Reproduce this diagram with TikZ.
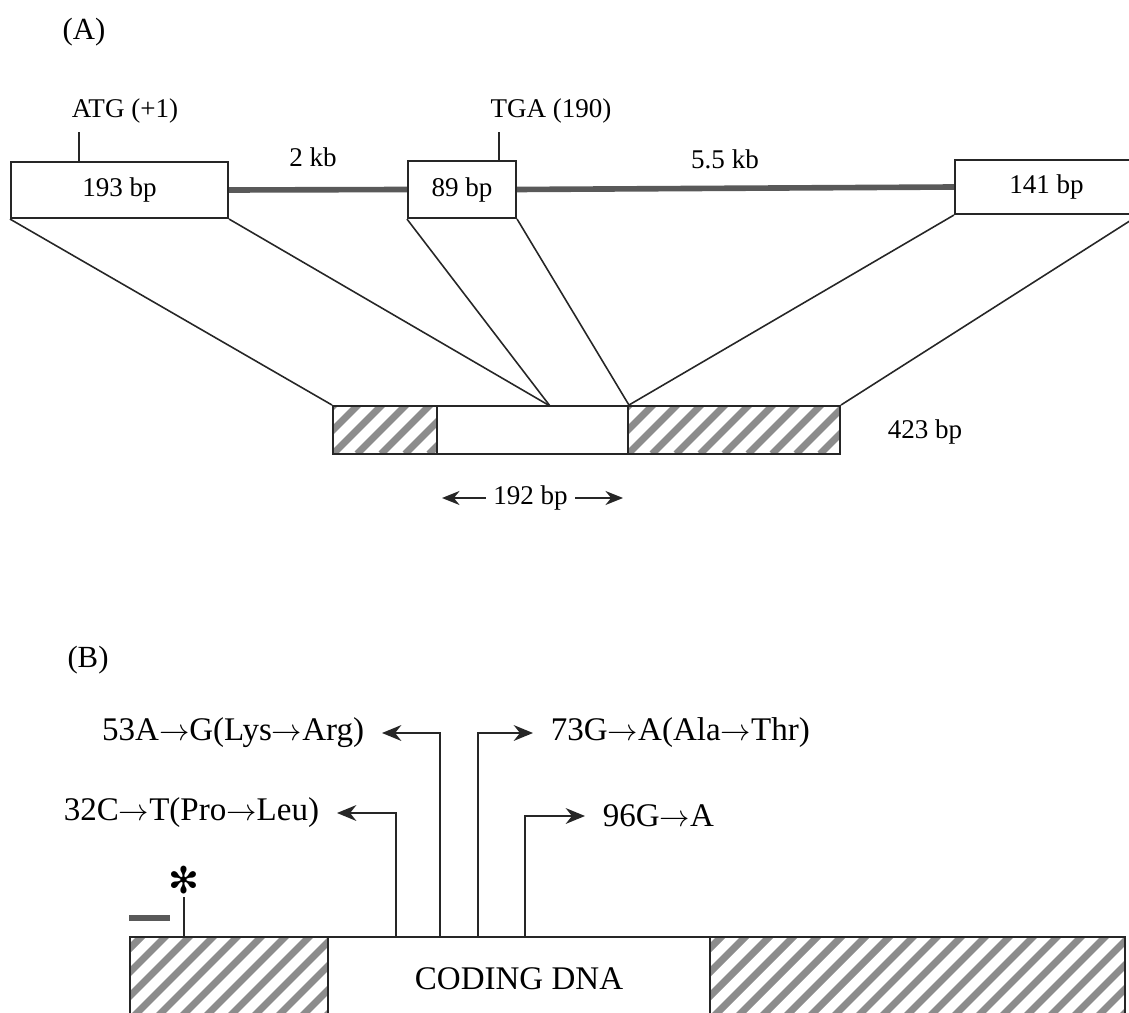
\documentclass[tikz,border=0pt]{standalone}
\usepackage{fontspec}
\setmainfont{Liberation Serif}
\newfontfamily\dingfont{DejaVu Sans}
\usetikzlibrary{arrows.meta,positioning,calc}

\newcommand{\mto}{$\rightarrow$}

\begin{document}
\begin{tikzpicture}[x=0.02cm, y=-0.02cm,
  exon/.style={rectangle, draw=black!85, line width=1.2pt, fill=white,
    inner sep=0pt, font=\fontsize{15.4}{18}\selectfont},
  seg/.style={rectangle, draw=black!85, line width=1.1pt, fill=white, inner sep=0pt},
  hatch/.style={path picture={\foreach \k in {-8,...,20}
      \draw[black!45, line width=4pt]
        ([xshift=\k*0.48cm]path picture bounding box.south west) -- ++(4cm,4cm);}},
  intron/.style={black!65, line width=3.2pt},
  link/.style={black!85, line width=0.9pt},
  tick/.style={black!85, line width=1pt},
  lbl/.style={font=\fontsize{15.4}{18}\selectfont, inner sep=0pt},
  panel/.style={font=\fontsize{17.5}{20}\selectfont, inner sep=0pt},
  mut/.style={font=\fontsize{18.8}{22}\selectfont, inner ysep=0pt, inner xsep=10pt},
  pointer/.style={-{Stealth[length=11pt,width=9pt]}, black!85, line width=1pt},
  span/.style={-{Stealth[length=10pt,width=8pt]}, black!85, line width=0.9pt},
]
\useasboundingbox (0,0) rectangle (1129,1013);

%% ── (A): genomic exons ──
\node[panel] (pa) at (84,32) {(A)};
\node[exon, minimum width=4.34cm, minimum height=1.12cm] (ex1) at (119.5,190) {193 bp};
\node[exon, minimum width=2.16cm, minimum height=1.14cm] (ex2) at (462,189.5) {89 bp};
\node[exon, minimum width=3.66cm, minimum height=1.08cm] (ex3) at (1046.5,187) {141 bp};
\draw[intron] (ex1.east) -- (ex2.west);
\draw[intron] (ex2.east) -- (ex3.west);
\node[lbl] (kb2)  at (313,157) {2 kb};
\node[lbl] (kb55) at (725,159) {5.5 kb};

%% start / stop codons
\node[lbl] (atg) at (125,111) {ATG (+1)};
\node[lbl] (tga) at (551,111) {TGA (190)};
\coordinate (atgpos) at (79,162);
\coordinate (tgapos) at (499,161);
\draw[tick] (atgpos) -- ++(0,-30);
\draw[tick] (tgapos) -- ++(0,-29);

%% ── (A): spliced transcript ──
\node[seg, hatch, minimum width=2.08cm, minimum height=0.96cm] (utr5) at (385,430) {};
\node[seg, minimum width=3.82cm, minimum height=0.96cm] (cds) at (532.5,430) {};
\node[seg, hatch, minimum width=4.24cm, minimum height=0.96cm] (utr3) at (734,430) {};
\node[lbl] (len) at (925,432) {423 bp};
\coordinate (jn1) at (550,406);

%% exon -> transcript lines
\draw[link] (ex1.south west) -- (utr5.north west);
\draw[link] (ex1.south east) -- (jn1);
\draw[link] (ex2.south west) -- (jn1);
\draw[link] (ex2.south east) -- (cds.north east);
\draw[link] (ex3.south west) -- (cds.north east);
\draw[link] (ex3.south east) -- (utr3.north east);

%% coding length
\node[lbl, inner xsep=4pt] (orf) at (530.5,498) {192 bp};
\coordinate (orfl) at (442,498);
\coordinate (orfr) at (623,498);
\draw[span] (orf) -- (orfl);
\draw[span] (orf) -- (orfr);

%% ── (B): mutations ──
\node[panel] (pb) at (88,660) {(B)};
\node[seg, hatch, minimum width=3.96cm, minimum height=1.66cm] (flankl) at (229,978.5) {};
\node[seg, minimum width=7.64cm, minimum height=1.66cm,
  font=\fontsize{18.8}{22}\selectfont] (coding) at (519,978.5) {CODING DNA};
\node[seg, hatch, minimum width=8.3cm, minimum height=1.66cm] (flankr) at (917.5,978.5) {};

\node[mut, anchor=east] (m53) at (382,733) {53A\mto G(Lys\mto Arg)};
\node[mut, anchor=east] (m32) at (337,813) {32C\mto T(Pro\mto Leu)};
\node[mut, anchor=west] (m73) at (533,733) {73G\mto A(Ala\mto Thr)};
\node[mut, anchor=west] (m96) at (585,816) {96G\mto A};
\coordinate (s32) at (396,937);
\coordinate (s53) at (440,937);
\coordinate (s73) at (478,937);
\coordinate (s96) at (525,937);
\draw[pointer] (s32) |- (m32.east);
\draw[pointer] (s53) |- (m53.east);
\draw[pointer] (s73) |- (m73.west);
\draw[pointer] (s96) |- (m96.west);

%% upstream marker
\node[inner sep=0pt, font=\dingfont\fontsize{21}{24}\selectfont] (ast) at (184,880) {✻};
\coordinate (astfoot) at (184,937);
\draw[tick] (astfoot) -- ++(0,-40);
\draw[intron] (129,918) -- (170,918);
\end{tikzpicture}
\end{document}
